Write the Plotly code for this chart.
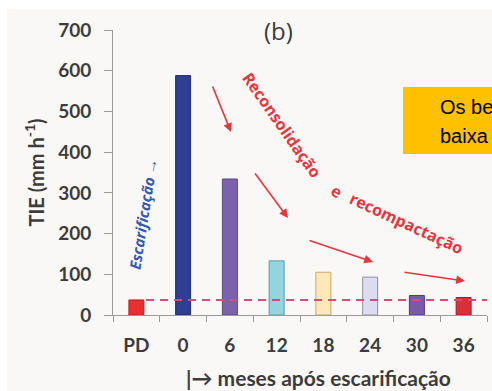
import plotly.graph_objects as go

categories = ["PD", "0", "6", "12", "18", "24", "30", "36"]
tie_values = [37, 588, 334, 133, 105, 93, 48, 43]
bar_colors = ["#e8312f", "#2e3f94", "#7c62ab", "#92d5de", "#fde9b8", "#dcdcee", "#7a5ba8", "#d9303a"]
edge_colors = ["#b82020", "#1f2a6a", "#5a4490", "#5a9aa8", "#c9a870", "#8e8eae", "#4a3a90", "#a01e25"]
y_ticks = [0, 100, 200, 300, 400, 500, 600, 700]
reference_level = tie_values[0]
x_title = "|→ meses após escarificação"

W, H = 492, 391
L, R, T, B = 113, 5, 30, 76
PW, PH = W - L - R, H - T - B


def P(px, py):
    return (px - L) / PW, (H - B - py) / PH


fig = go.Figure()
fig.add_trace(go.Bar(
    x=categories, y=tie_values, width=0.32,
    marker=dict(color=bar_colors, line=dict(color=edge_colors, width=1)),
    hoverinfo="skip",
))

tick_font = dict(family="Lato", size=19, color="#3c3c3c", weight="bold")

fig.update_layout(
    width=W, height=H,
    margin=dict(l=L, r=R, t=T, b=B),
    paper_bgcolor="#f9f8f6",
    plot_bgcolor="#f9f8f6",
    showlegend=False,
    xaxis=dict(
        type="category", range=[-0.5, 7.5],
        showline=True, linecolor="#9a9a9a", linewidth=1,
        ticks="outside", tickson="boundaries", ticklen=6, tickcolor="#9a9a9a",
        showgrid=False, tickfont=tick_font, ticklabelstandoff=13,
    ),
    yaxis=dict(
        range=[0, 700], tickvals=y_ticks,
        showline=True, linecolor="#9a9a9a", linewidth=1,
        ticks="outside", ticklen=8, tickcolor="#9a9a9a",
        showgrid=False, zeroline=False, tickfont=tick_font,
        ticklabelstandoff=9,
        title=dict(text="TIE (mm h<sup>-1</sup>)",
                   font=dict(family="Lato", size=20, color="#3c3c3c", weight="bold"),
                   standoff=8),
    ),
)

shapes = []
# white strips at top and left of the picture
shapes.append(dict(type="rect", xref="paper", yref="paper", x0=P(-10, 0)[0], x1=P(W + 10, 0)[0],
                   y0=P(0, 9)[1], y1=P(0, -10)[1], fillcolor="white", line=dict(width=0), layer="above"))
shapes.append(dict(type="rect", xref="paper", yref="paper", x0=P(-10, 0)[0], x1=P(7, 0)[0],
                   y0=P(0, H + 10)[1], y1=P(0, -10)[1], fillcolor="white", line=dict(width=0), layer="above"))
# dashed reference line
shapes.append(dict(type="line", xref="paper", yref="y", x0=P(146, 0)[0], x1=1,
                   y0=reference_level, y1=reference_level,
                   line=dict(color="#dc4a78", width=2, dash="8px,6px"), layer="above"))
# orange box
bx0, by0 = P(403, 154)
bx1, by1 = P(W + 10, 87)
shapes.append(dict(type="rect", xref="paper", yref="paper", x0=bx0, x1=bx1, y0=by0, y1=by1,
                   fillcolor="#ffc000", line=dict(width=0), layer="above"))
fig.update_layout(shapes=shapes)

ann = []
# x axis title
xt, yt = P(318, 377)
ann.append(dict(text=x_title, x=xt, y=yt, xref="paper", yref="paper", showarrow=False,
                font=dict(family="Lato", size=21, color="#3c3c3c", weight="bold"),
                xanchor="center", yanchor="middle"))
# title (b)
tx, ty = P(278, 30)
ann.append(dict(text="(b)", x=tx, y=ty, xref="paper", yref="paper", showarrow=False,
                font=dict(family="Open Sans", size=24, color="#3a3a3a"), xanchor="center", yanchor="middle"))
# Escarificação
ex, ey = P(143, 214)
ann.append(dict(text="<i>Escarificação →</i>", x=ex, y=ey,
                xref="paper", yref="paper", showarrow=False,
                textangle=-81, font=dict(family="Open Sans", size=15, color="#3558b0", weight="bold"),
                xanchor="center", yanchor="middle"))
red = "#e8353d"
for txt, cx, cy, ang, sz in [("Reconsolidação", 282, 125, 55, 16), ("e", 336, 191, 33, 16),
                             ("recompactação", 406, 223, 25, 16)]:
    px_, py_ = P(cx, cy)
    ann.append(dict(text="<b>" + txt + "</b>", x=px_, y=py_, xref="paper", yref="paper", showarrow=False,
                    textangle=ang, font=dict(family="Open Sans", size=sz, color=red),
                    xanchor="center", yanchor="middle"))
# arrows (head, tail)
for hx, hy, sx, sy in [(231, 132, 212, 85), (288, 218, 254, 172), (373, 262, 308, 240), (465, 281, 403, 272)]:
    ax_, ay_ = P(hx, hy)
    ann.append(dict(text="", x=ax_, y=ay_, xref="paper", yref="paper", showarrow=True,
                    ax=sx - hx, ay=sy - hy, arrowhead=2, arrowsize=1.1, arrowwidth=1.6,
                    arrowcolor=red, standoff=0))
# text in orange box
for txt, cy in [("Os be", 107), ("baixa", 136)]:
    px_, py_ = P(438, cy)
    ann.append(dict(text=txt, x=px_, y=py_, xref="paper", yref="paper", showarrow=False,
                    font=dict(family="Liberation Sans", size=20, color="black"),
                    xanchor="left", yanchor="middle"))
fig.update_layout(annotations=ann)

fig.write_html("out.html")
